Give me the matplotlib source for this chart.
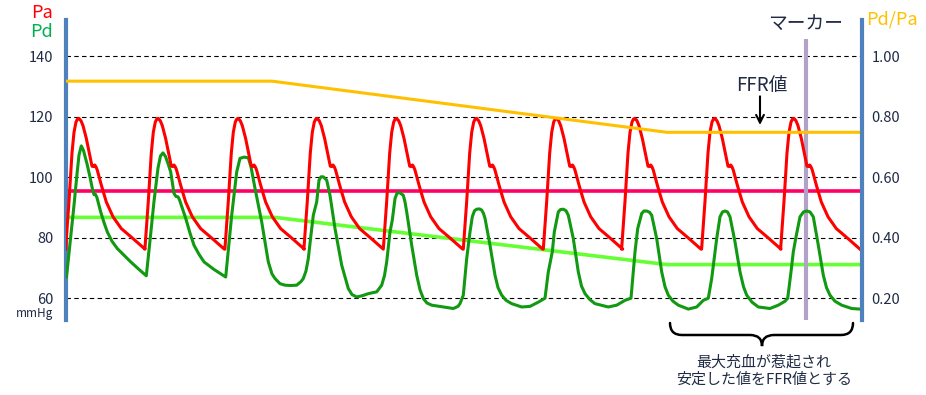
import numpy as np
import matplotlib.pyplot as plt
import matplotlib.transforms as mtransforms
from matplotlib.path import Path
from matplotlib.patches import PathPatch

plt.rcParams['font.family'] = ['Noto Sans CJK JP', 'DejaVu Sans']

# --- データ (時間は秒, 圧は mmHg) ---
# Pa: 1拍の波形 (ピークからの時間差) と各拍のピーク時刻
pa_peak_t = [0.13, 0.923, 1.723, 2.513, 3.307, 4.107, 4.907, 5.69, 6.49, 7.28]
pa_beat_dt = [-0.134, -0.10, -0.07, -0.05, -0.03, -0.015, 0.0, 0.02, 0.04, 0.073,
              0.107, 0.13, 0.145, 0.157, 0.17, 0.183, 0.223, 0.273, 0.34, 0.423,
              0.54, 0.66]
pa_beat_mmhg = [76.2, 92.0, 108.0, 114.8, 118.2, 119.2, 119.4, 118.6, 117.0, 112.8,
                107.3, 103.6, 103.5, 104.0, 103.4, 102.3, 97.4, 91.8, 86.9, 83.0,
                79.7, 76.2]

# Pd: 拍ごとに形が変わるので全点を読み取り
pd_t = [
    0.005, 0.04, 0.08, 0.11, 0.13, 0.153, 0.175, 0.213, 0.24, 0.263, 0.28, 0.295, 0.31, 0.347, 0.38, 0.413, 0.46, 0.513, 0.58, 0.647, 0.72, 0.803,
    0.84, 0.88, 0.92, 0.945, 0.97, 0.995, 1.02, 1.047, 1.08, 1.10, 1.12, 1.135, 1.197, 1.24, 1.28, 1.33, 1.38, 1.48, 1.597,
    1.657, 1.707, 1.74, 1.78, 1.823, 1.85, 1.89, 1.957, 2.023, 2.06, 2.09, 2.14, 2.19, 2.25, 2.307, 2.35, 2.373, 2.40, 2.423,
    2.45, 2.473, 2.507, 2.53, 2.55, 2.573, 2.607, 2.64, 2.69, 2.757, 2.823, 2.86, 2.907, 2.96, 3.023, 3.107, 3.157, 3.185, 3.207,
    3.24, 3.263, 3.29, 3.31, 3.335, 3.373, 3.39, 3.407, 3.457, 3.507, 3.54, 3.573, 3.61, 3.657, 3.773, 3.873, 3.92, 3.94, 3.973, 4.007,
    4.04, 4.063, 4.085, 4.107, 4.135, 4.157, 4.175, 4.19, 4.24, 4.29, 4.32, 4.357, 4.40, 4.457, 4.557, 4.64, 4.723, 4.79, 4.823,
    4.863, 4.883, 4.923, 4.945, 4.973, 5.00, 5.023, 5.073, 5.123, 5.155, 5.19, 5.24, 5.29, 5.423, 5.507, 5.59, 5.65, 5.673,
    5.69, 5.717, 5.757, 5.78, 5.807, 5.835, 5.857, 5.907, 5.957, 5.99, 6.023, 6.07, 6.123, 6.223, 6.307, 6.373, 6.423,
    6.457, 6.49, 6.507, 6.54, 6.565, 6.59, 6.615, 6.64, 6.69, 6.74, 6.775, 6.807, 6.86, 6.923, 7.04, 7.123, 7.19, 7.217,
    7.25, 7.273, 7.297, 7.34, 7.375, 7.407, 7.44, 7.473, 7.523, 7.573, 7.605, 7.64, 7.69, 7.757, 7.857, 7.94,
]
pd_mmhg = [
    67.0, 78.0, 90.7, 101.0, 107.3, 110.3, 108.8, 104.0, 100.0, 96.3, 94.2, 94.3, 93.2, 88.5, 85.0, 81.9, 78.8, 76.4, 74.2, 72.0, 69.8, 67.4,
    79.0, 92.0, 103.0, 107.0, 108.0, 106.8, 104.5, 101.7, 94.6, 93.6, 93.5, 92.5, 86.4, 81.5, 77.5, 74.5, 72.0, 69.5, 67.0,
    87.4, 101.7, 106.2, 106.6, 106.4, 103.4, 96.3, 85.2, 72.0, 68.0, 66.5, 64.8, 64.3, 64.2, 64.3, 65.5, 66.5, 69.0, 73.1,
    81.0, 87.4, 91.8, 99.0, 100.1, 100.1, 99.0, 94.0, 83.0, 70.9, 63.2, 61.2, 60.4, 60.8, 61.5, 62.1, 64.3, 67.5, 72.0,
    81.9, 85.8, 92.9, 94.7, 94.9, 94.0, 91.8, 88.5, 77.5, 67.6, 62.8, 59.9, 58.4, 57.7, 57.1, 56.6, 57.3, 58.2, 61.0, 73.1,
    81.9, 86.9, 88.9, 89.4, 89.5, 89.1, 88.0, 86.4, 77.5, 67.6, 63.5, 61.0, 59.3, 58.2, 57.1, 57.3, 58.7, 60.0, 68.7,
    75.3, 81.9, 88.5, 89.3, 89.4, 88.9, 87.4, 79.7, 68.7, 64.0, 61.5, 59.5, 58.2, 57.1, 57.7, 59.3, 60.0, 68.7,
    75.3, 83.0, 88.0, 88.8, 88.8, 88.4, 87.4, 79.7, 68.7, 63.8, 61.0, 59.0, 57.7, 56.4, 57.1, 59.3, 60.0,
    66.5, 75.3, 79.7, 86.9, 88.5, 88.8, 88.5, 86.9, 78.6, 68.7, 63.8, 61.0, 58.7, 57.1, 56.6, 57.7, 59.0, 60.0,
    68.7, 75.3, 79.7, 86.9, 88.5, 88.8, 88.5, 86.9, 77.5, 67.6, 63.5, 61.0, 59.0, 57.7, 56.6, 56.4,
]

# 平均圧と Pd/Pa
pa_mean_t = [0.0, 7.96]
pa_mean_mmhg = [95.3, 95.3]
pd_mean_t = [0.0, 2.09, 6.01, 7.96]
pd_mean_mmhg = [86.7, 86.7, 71.1, 71.1]
ratio_t = [0.0, 2.06, 6.01, 7.96]
ratio_val = [0.917, 0.917, 0.748, 0.748]

marker_t = 7.40
ffr_t = 6.94
left_ticks = [60, 80, 100, 120, 140]
right_ticks = [0.2, 0.4, 0.6, 0.8, 1.0]

pa_t = np.concatenate([p + np.array(pa_beat_dt) for p in pa_peak_t])
pa_mmhg = np.tile(pa_beat_mmhg, len(pa_peak_t))

W, H = 926, 395
fig = plt.figure(figsize=(W / 100, H / 100), dpi=100)
ax = fig.add_axes([66 / W, 75 / H, 796 / W, 300 / H])
ax2 = ax.twinx()

ylo, yhi = 52.8, 151.9
ax.set_xlim(0, 7.96)
ax.set_ylim(ylo, yhi)
# 右軸は 60mmHg=0.20, 140mmHg=1.00 に合わせる
ax2.set_ylim(0.2 + (ylo - 60) * 0.01, 0.2 + (yhi - 60) * 0.01)

# 目盛り線 (破線)
for v in left_ticks:
    ax.axhline(v, color='black', lw=0.8, ls=(0, (4, 3)), zorder=1)

# 平均圧
ax.plot(pa_mean_t, pa_mean_mmhg, color='#FF0066', lw=2.6, zorder=2, solid_capstyle='butt')
ax.plot(pd_mean_t, pd_mean_mmhg, color='#66FF33', lw=2.6, zorder=2, solid_capstyle='butt')

# マーカー
ax.plot([marker_t, marker_t], [ylo, 145.6], color='#B3A2C7', lw=3, zorder=3, solid_capstyle='butt')

# 波形
ax.plot(pd_t, pd_mmhg, color='#119911', lw=2.2, zorder=4, solid_joinstyle='round')
ax.plot(pa_t, pa_mmhg, color='#FF0000', lw=2.2, zorder=5, solid_joinstyle='round')

# Pd/Pa
ax2.plot(ratio_t, ratio_val, color='#FFC000', lw=2.2, solid_capstyle='butt')

# 軸の見た目
for a in (ax, ax2):
    for s in ('top', 'bottom'):
        a.spines[s].set_visible(False)
ax.spines['right'].set_visible(False)
ax2.spines['left'].set_visible(False)
ax.spines['left'].set_color('#4F81BD')
ax.spines['left'].set_linewidth(3)
ax2.spines['right'].set_color('#4F81BD')
ax2.spines['right'].set_linewidth(3)
ax.set_xticks([])
ax.set_yticks(left_ticks)
ax.tick_params(axis='y', length=0, pad=9, labelsize=10.5, labelcolor='#1F2A44')
ax2.set_yticks(right_ticks)
ax2.set_yticklabels([f'{v:.2f}' for v in right_ticks])
ax2.tick_params(axis='y', length=0, pad=7, labelsize=10.5, labelcolor='#1F2A44')

# ラベル
fig.text(53 / W, 1 - 13 / H, 'Pa', color='#FF0000', fontsize=13, ha='right', va='center')
fig.text(53 / W, 1 - 32 / H, 'Pd', color='#00B050', fontsize=13, ha='right', va='center')
fig.text(53 / W, 1 - 314 / H, 'mmHg', color='#1F2A44', fontsize=8.5, ha='right', va='center')
fig.text(866 / W, 1 - 20 / H, 'Pd/Pa', color='#FFC000', fontsize=13, ha='left', va='center')

ax.text(marker_t, 150.9, 'マーカー', fontsize=13.5, ha='center', va='center', color='#1F2A44')
ax.text(ffr_t + 0.02, 130.4, 'FFR値', fontsize=13.5, ha='center', va='center', color='#1F2A44')
ax.annotate('', xy=(ffr_t, 116.3), xytext=(ffr_t, 127.6),
            arrowprops=dict(arrowstyle='->', lw=1.5, color='black', mutation_scale=14))

# 中括弧 (x はデータ, y は軸比)
tr = mtransforms.blended_transform_factory(ax.transData, ax.transAxes)
x0, xc, x1 = 6.04, 6.96, 7.87
yt, ym, yb = -0.01, -0.05, -0.087
verts = [(x0, yt), (x0, ym), (x0 + 0.12, ym), (x0 + 0.12, ym),
         (xc - 0.12, ym), (xc - 0.12, ym), (xc, ym), (xc, yb),
         (xc, ym), (xc + 0.12, ym), (xc + 0.12, ym),
         (x1 - 0.12, ym), (x1 - 0.12, ym), (x1, ym), (x1, yt)]
codes = [Path.MOVETO, Path.CURVE3, Path.CURVE3, Path.LINETO,
         Path.LINETO, Path.LINETO, Path.CURVE3, Path.CURVE3,
         Path.CURVE3, Path.CURVE3, Path.LINETO,
         Path.LINETO, Path.LINETO, Path.CURVE3, Path.CURVE3]
ax.add_patch(PathPatch(Path(verts, codes), transform=tr, fill=False, lw=1.8,
                       edgecolor='black', clip_on=False, capstyle='round'))

fig.text(764 / W, 1 - 362 / H, '最大充血が惹起され', fontsize=10.8, ha='center', va='center', color='#1F2A44')
fig.text(764 / W, 1 - 380 / H, '安定した値をFFR値とする', fontsize=10.8, ha='center', va='center', color='#1F2A44')

fig.savefig('out.png', dpi=100)
